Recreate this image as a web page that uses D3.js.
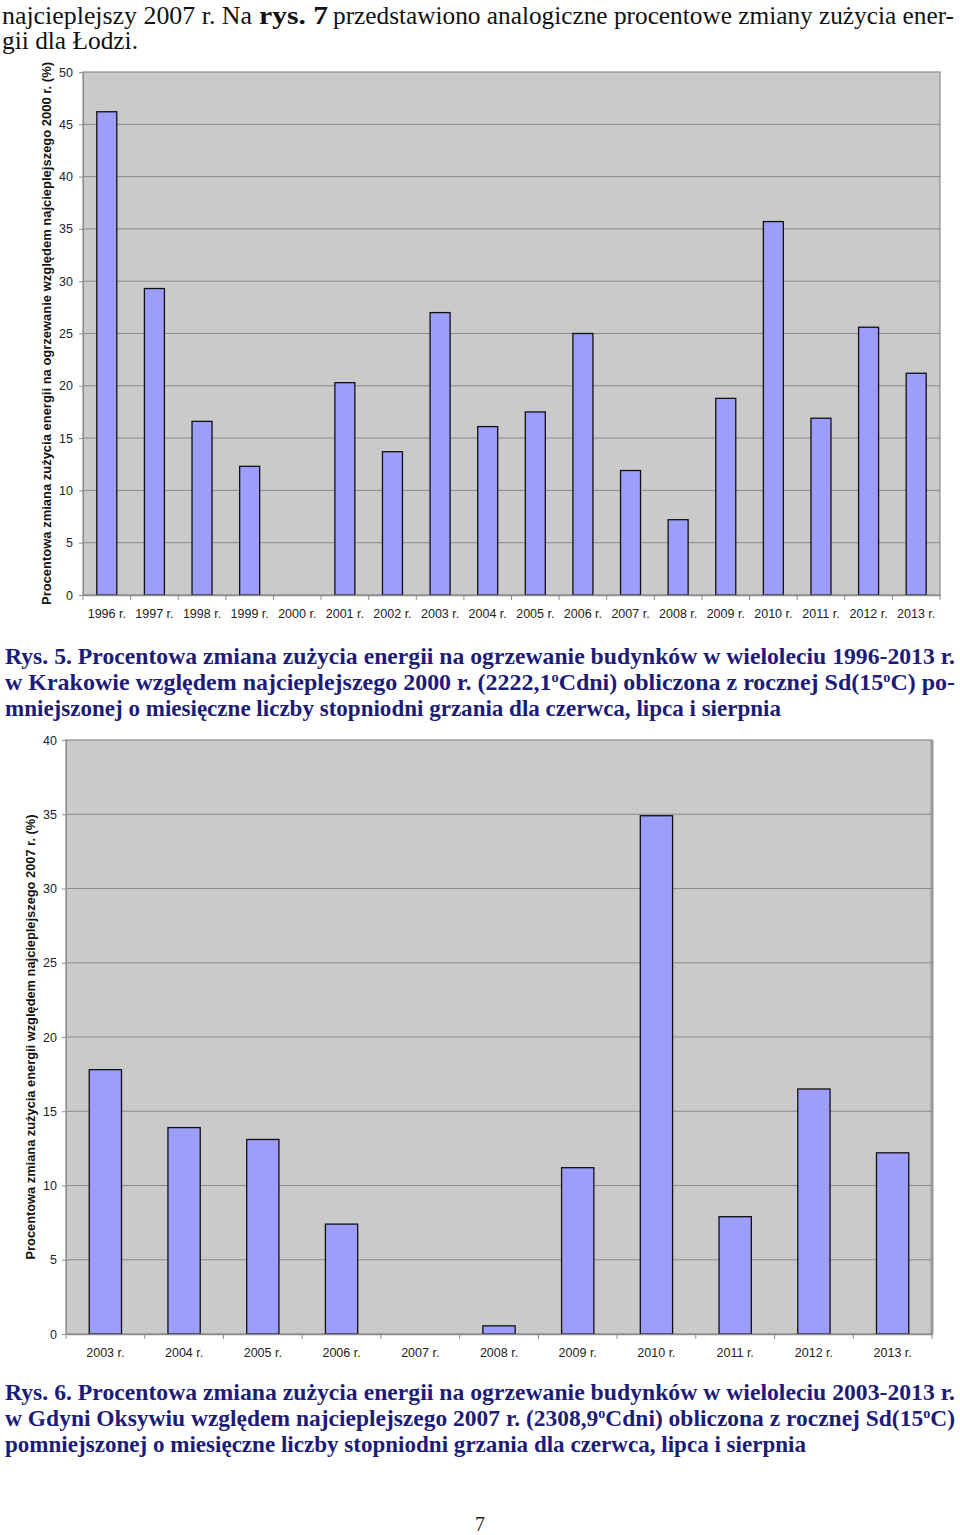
<!DOCTYPE html>
<html><head><meta charset="utf-8">
<script src="https://cdn.jsdelivr.net/npm/d3@7"></script>
<style>body{margin:0;background:#fff}svg{display:block}</style>
</head><body>
<svg id="c" width="960" height="1535"></svg>
<script>
const years1 = ["1996 r.","1997 r.","1998 r.","1999 r.","2000 r.","2001 r.","2002 r.","2003 r.","2004 r.","2005 r.","2006 r.","2007 r.","2008 r.","2009 r.","2010 r.","2011 r.","2012 r.","2013 r."];
const values1 = [46.2,29.3,16.6,12.3,0,20.3,13.7,27.0,16.1,17.5,25.0,11.9,7.2,18.8,35.7,16.9,25.6,21.2];
const ticks1 = [0,5,10,15,20,25,30,35,40,45,50];
const years2 = ["2003 r.","2004 r.","2005 r.","2006 r.","2007 r.","2008 r.","2009 r.","2010 r.","2011 r.","2012 r.","2013 r."];
const values2 = [17.8,13.9,13.1,7.4,0,0.55,11.2,34.9,7.9,16.5,12.2];
const ticks2 = [0,5,10,15,20,25,30,35,40];

const svg = d3.select("#c");
const serif = "'Liberation Serif','Times New Roman',serif";
const sans = "'Liberation Sans',Arial,sans-serif";
const navy = "#1c1c78";

function line(y, x, len, parts, opts) {
  const t = svg.append("text").attr("x", x).attr("y", y)
    .attr("font-family", serif).attr("font-size", opts.size)
    .attr("fill", opts.fill).attr("font-weight", opts.weight || "normal");
  if (len) t.attr("textLength", len).attr("lengthAdjust", "spacingAndGlyphs");
  parts.forEach(p => {
    const s = t.append("tspan").text(p.t);
    if (p.sup) s.attr("baseline-shift", "super").attr("font-size", opts.size * 0.6);
  });
}
const para = {size:25, fill:"#111"};
line(24, 2, 250, [{t:"najcieplejszy 2007 r. Na"}], para);
line(24, 259, 69, [{t:"rys. 7"}], {size:25, fill:"#111", weight:"bold"});
line(24, 333, 621, [{t:"przedstawiono analogiczne procentowe zmiany zużycia ener-"}], para);
line(49, 2, 136, [{t:"gii dla Łodzi."}], para);

const cap = {size:23.5, fill:navy, weight:"bold"};
line(664, 5, 950, [{t:"Rys. 5. Procentowa zmiana zużycia energii na ogrzewanie budynków w wieloleciu 1996-2013 r."}], cap);
line(690, 5, 950, [{t:"w Krakowie względem najcieplejszego 2000 r. (2222,1"},{t:"o",sup:true},{t:"Cdni) obliczona z rocznej Sd(15"},{t:"o",sup:true},{t:"C) po-"}], cap);
line(716, 5, 776, [{t:"mniejszonej o miesięczne liczby stopniodni grzania dla czerwca, lipca i sierpnia"}], cap);
line(1400, 5, 950, [{t:"Rys. 6. Procentowa zmiana zużycia energii na ogrzewanie budynków w wieloleciu 2003-2013 r."}], cap);
line(1426, 5, 950, [{t:"w Gdyni Oksywiu względem najcieplejszego 2007 r. (2308,9"},{t:"o",sup:true},{t:"Cdni) obliczona z rocznej Sd(15"},{t:"o",sup:true},{t:"C)"}], cap);
line(1452, 5, 801, [{t:"pomniejszonej o miesięczne liczby stopniodni grzania dla czerwca, lipca i sierpnia"}], cap);

svg.append("text").attr("x", 480).attr("y", 1531).attr("text-anchor","middle")
  .attr("font-family", serif).attr("font-size", 20).attr("fill","#222").text("7");

function chart(cfg) {
  const {cats, vals, ticks, x0, x1, y0, y1, ymax, pad, title, titleX, titleLen, titleSize, tickLabelX, xLabelY, shadow} = cfg;
  const x = d3.scaleBand().domain(cats).range([x0, x1]).paddingInner(pad).paddingOuter(pad/2);
  const y = d3.scaleLinear().domain([0, ymax]).range([y1, y0]);
  const g = svg.append("g");
  g.append("rect").attr("x", x0).attr("y", y0).attr("width", x1-x0).attr("height", y1-y0)
    .attr("fill", "#cacaca").attr("stroke", "#8c8c8c").attr("stroke-width", 1.2);
  if (shadow) {
    g.append("line").attr("x1", x1).attr("x2", x1).attr("y1", y0).attr("y2", y1)
      .attr("stroke", "#9a9a9a").attr("stroke-width", 3);
  }
  g.selectAll("line.grid").data(ticks.filter(t => t > 0 && t < ymax)).join("line")
    .attr("class", "grid")
    .attr("x1", x0).attr("x2", x1).attr("y1", d => y(d)).attr("y2", d => y(d))
    .attr("stroke", "#8a8a8a").attr("stroke-width", 1);
  const data = vals.map((v, i) => ({c: cats[i], v})).filter(d => d.v > 0);
  g.selectAll("rect.bar").data(data).join("rect")
    .attr("class", "bar")
    .attr("x", d => x(d.c)).attr("width", x.bandwidth())
    .attr("y", d => y(d.v)).attr("height", d => y(0) - y(d.v))
    .attr("fill", "#9d9dfc").attr("stroke", "#111").attr("stroke-width", 1.3);
  const ya = g.append("g").attr("transform", `translate(${x0},0)`)
    .call(d3.axisLeft(y).tickValues(ticks).tickSize(4).tickPadding(0).tickFormat(d3.format("d")));
  ya.select(".domain").attr("stroke", "#8c8c8c");
  ya.selectAll(".tick line").attr("stroke", "#8c8c8c");
  ya.selectAll(".tick text").attr("x", tickLabelX - x0).attr("text-anchor", "end")
    .attr("font-family", sans).attr("font-size", 12.5).attr("fill", "#222");
  const xa = g.append("g").attr("transform", `translate(0,${y1})`)
    .call(d3.axisBottom(x).tickSize(0).tickPadding(0));
  xa.select(".domain").attr("stroke", "#8c8c8c").attr("stroke-width", 1.5);
  xa.selectAll(".tick text").attr("y", xLabelY - y1).attr("dy", "0")
    .attr("font-family", sans).attr("font-size", 12.5).attr("fill", "#222");
  g.selectAll("line.bt").data(d3.range(cats.length + 1)).join("line")
    .attr("class", "bt")
    .attr("x1", i => x0 + i * x.step()).attr("x2", i => x0 + i * x.step())
    .attr("y1", y1).attr("y2", y1 + 5).attr("stroke", "#8c8c8c");
  g.append("text").attr("transform", `translate(${titleX},${(y0 + y1) / 2}) rotate(-90)`)
    .attr("text-anchor", "middle").attr("font-family", sans).attr("font-weight", "bold")
    .attr("font-size", titleSize).attr("fill", "#111")
    .attr("textLength", titleLen).attr("lengthAdjust", "spacingAndGlyphs").text(title);
}

chart({cats: years1, vals: values1, ticks: ticks1, x0: 83, x1: 940, y0: 72, y1: 595, ymax: 50, pad: 0.58,
  title: "Procentowa zmiana zużycia energii na ogrzewanie względem najcieplejszego 2000 r. (%)",
  titleX: 51, titleLen: 543, titleSize: 12.5, tickLabelX: 73, xLabelY: 618, shadow: false});
chart({cats: years2, vals: values2, ticks: ticks2, x0: 66, x1: 932, y0: 740, y1: 1334, ymax: 40, pad: 0.59,
  title: "Procentowa zmiana zużycia energii względem najcieplejszego 2007 r. (%)",
  titleX: 35, titleLen: 445, titleSize: 12, tickLabelX: 57, xLabelY: 1357, shadow: true});
</script>
</body></html>
